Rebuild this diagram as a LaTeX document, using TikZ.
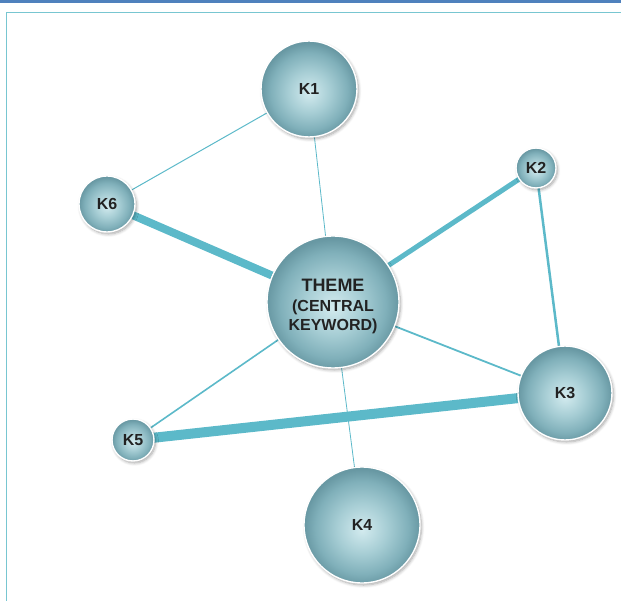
\documentclass[tikz,border=0pt]{standalone}
\usepackage{fontspec}
\setmainfont{Liberation Sans}
\usetikzlibrary{shadows.blur,backgrounds}

\definecolor{barblue}{HTML}{4F81BD}
\definecolor{framecol}{HTML}{78C6D1}
\definecolor{linkcol}{HTML}{5CB9C9}
\definecolor{labelcol}{HTML}{222222}
\definecolor{ballin}{HTML}{D3EBEF}
\definecolor{ballmid}{HTML}{A6CDD4}
\definecolor{ballrim}{HTML}{80B0BA}
\definecolor{ballout}{HTML}{6898A3}

% sphere-like shading, lighter towards the middle
\pgfdeclareradialshading{ballshade}{\pgfpoint{0bp}{-2bp}}{%
  color(0bp)=(ballin); color(11bp)=(ballmid); color(20bp)=(ballrim);
  color(25bp)=(ballout); color(50bp)=(ballout)}

\tikzset{
  keyball/.style={circle, shading=ballshade, draw=white, line width=1.4pt,
    minimum size=#1, inner sep=0pt, text=labelcol, font=\bfseries\fontsize{16}{18}\selectfont,
    blur shadow={shadow xshift=1.5pt, shadow yshift=-2pt, shadow blur steps=6,
      shadow opacity=35, shadow blur radius=3pt}},
  themetext/.style={align=center, text=labelcol, inner sep=0pt,
    font=\bfseries\fontsize{16}{19.5}\selectfont},
  link/.style={draw=linkcol, line width=#1}
}

\begin{document}
\begin{tikzpicture}[x=1pt,y=-1pt]
\useasboundingbox (0,0) rectangle (621,601);
% page header bar and frame
\fill[barblue] (0,0) rectangle (621,3.2);
\draw[framecol, line width=1pt] (6.5,601) -- (6.5,13) -- (621,13);

% keyword spheres
\node[keyball=132pt] (theme) at (333,302) {};
\node[themetext] (themelabel) at (333,306.5)
  {{\fontsize{18}{19.5}\selectfont THEME}\\[0.5pt]
   (CENTRAL\\
   KEYWORD)};
\node[keyball=96pt]  (k1) at (309,89)  {K1};
\node[keyball=40pt]  (k2) at (536,168) {K2};
\node[keyball=94pt]  (k3) at (565,393) {K3};
\node[keyball=116pt] (k4) at (362,525) {K4};
\node[keyball=42pt]  (k5) at (133,440) {K5};
\node[keyball=56pt]  (k6) at (107,204) {K6};

% links, weighted by strength
\begin{pgfonlayer}{background}
\draw[link=1pt]   (k1.center) -- (k6.center);
\draw[link=0.8pt] (k1.center) -- (theme.center);
\draw[link=8pt]   (k6.center) -- (theme.center);
\draw[link=5pt]   (k2.center) -- (theme.center);
\draw[link=2.5pt] (k2.center) -- (k3.center);
\draw[link=1.8pt] (theme.center) -- (k3.center);
\draw[link=1.6pt] (theme.center) -- (k5.center);
\draw[link=10pt]  (k5.center) -- (k3.center);
\draw[link=0.8pt] (theme.center) -- (k4.center);
\end{pgfonlayer}
\end{tikzpicture}
\end{document}
